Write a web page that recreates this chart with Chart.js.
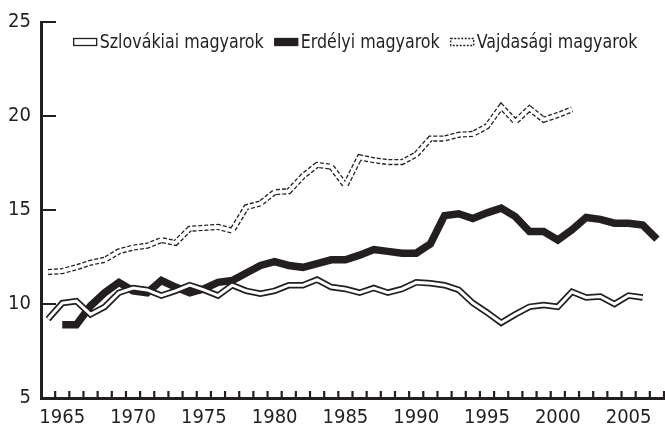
<!DOCTYPE html>
<html>
<head>
<meta charset="utf-8">
<script src="https://cdn.jsdelivr.net/npm/chart.js@4.4.1/dist/chart.umd.min.js"></script>
<style>
  html, body { margin: 0; padding: 0; background: #fff; }
  #wrap { width: 665px; height: 426px; }
</style>
</head>
<body>
<div id="wrap"><canvas id="chart"></canvas></div>
<script>
// Years on the x axis (labels shown every 5 years)
const years = [];
for (let y = 1964; y <= 2007; y++) years.push(String(y));

const yTicks = [5, 10, 15, 20, 25];

const seriesNames = ['Szlovákiai magyarok', 'Erdélyi magyarok', 'Vajdasági magyarok'];

// 1964 .. 2007
const szlovakiai = [
    9.2, 10.05, 10.15, 9.45, 9.85, 10.6, 10.85, 10.75, 10.45, 10.7,
    11.0, 10.75, 10.45, 11.0, 10.7, 10.55, 10.7, 11.0, 11.0, 11.3,
    10.9, 10.8, 10.6, 10.85, 10.6, 10.8, 11.15, 11.1, 11.0, 10.75,
    10.05, 9.55, 9.0, 9.45, 9.85, 9.95, 9.85, 10.65, 10.35, 10.4,
    10.0, 10.45, 10.35, null
];

const erdelyi = [
    null, 8.9, 8.9, 9.9, 10.6, 11.15, 10.7, 10.6, 11.25, 10.9,
    10.6, 10.8, 11.15, 11.25, 11.65, 12.05, 12.25, 12.05, 11.95, 12.15,
    12.35, 12.35, 12.6, 12.9, 12.8, 12.7, 12.7, 13.2, 14.7, 14.8,
    14.55, 14.85, 15.1, 14.65, 13.85, 13.85, 13.4, 13.95, 14.6, 14.5,
    14.3, 14.3, 14.2, 13.45
];

const vajdasagi = [
    11.7, 11.75, 11.95, 12.2, 12.35, 12.8, 13.0, 13.1, 13.4, 13.25,
    14.0, 14.05, 14.1, 13.9, 15.15, 15.35, 15.95, 16.0, 16.8, 17.4,
    17.3, 16.3, 17.8, 17.65, 17.55, 17.55, 17.95, 18.8, 18.8, 19.0,
    19.05, 19.45, 20.5, 19.7, 20.4, 19.8, 20.05, 20.35, null, null,
    null, null, null, null
];

const ink = '#231f20';
const fontFamily = '"Liberation Sans Narrow", "DejaVu Sans Condensed", "Arial Narrow", sans-serif';

// tick marks: y ticks point right, x ticks sit on category boundaries and point up
const tickMarks = {
    id: 'tickMarks',
    afterDatasetsDraw(chart) {
        const { ctx, chartArea, scales } = chart;
        const x = scales.x, y = scales.y;
        ctx.save();
        ctx.strokeStyle = ink;
        ctx.lineWidth = 2.2;
        ctx.beginPath();
        yTicks.forEach(v => {
            const py = y.getPixelForValue(v);
            ctx.moveTo(chartArea.left, py);
            ctx.lineTo(chartArea.left + 15, py);
        });
        const half = (x.getPixelForValue(1) - x.getPixelForValue(0)) / 2;
        for (let i = 1; i <= years.length; i++) {
            const px = x.getPixelForValue(i) - half;
            ctx.moveTo(px, chartArea.bottom);
            ctx.lineTo(px, chartArea.bottom - 7);
        }
        ctx.stroke();
        ctx.restore();
    }
};

// one-row legend inside the plot, near the top
const rowLegend = {
    id: 'rowLegend',
    afterDraw(chart) {
        const { ctx, chartArea } = chart;
        const boxW = 23, boxH = 7, gap = 3, itemGap = 11;
        const squeeze = 0.93; // narrow the text a little, like a condensed face
        const styles = [
            { fill: '#fff', dash: [] },
            { fill: ink, dash: [] },
            { fill: '#fff', dash: [2, 1.5] }
        ];
        ctx.save();
        ctx.font = '19px ' + fontFamily;
        ctx.textBaseline = 'middle';
        const widths = seriesNames.map(t => ctx.measureText(t).width * squeeze);
        let total = 0;
        widths.forEach(w => { total += boxW + gap + w; });
        total += itemGap * (seriesNames.length - 1);
        let x = (chartArea.left + chartArea.right) / 2 - total / 2 + 3;
        const cy = chartArea.top + 20;
        seriesNames.forEach((name, i) => {
            const s = styles[i];
            ctx.fillStyle = s.fill;
            ctx.fillRect(x, cy - boxH / 2, boxW, boxH);
            ctx.strokeStyle = ink;
            ctx.lineWidth = 1.3;
            ctx.setLineDash(s.dash);
            ctx.strokeRect(x, cy - boxH / 2, boxW, boxH);
            ctx.setLineDash([]);
            ctx.fillStyle = ink;
            ctx.save();
            ctx.translate(x + boxW + gap, cy + 1);
            ctx.scale(squeeze, 1);
            ctx.fillText(name, 0, 0);
            ctx.restore();
            x += boxW + gap + widths[i] + itemGap;
        });
        ctx.restore();
    }
};

const lineBase = {
    pointRadius: 0,
    pointHoverRadius: 0,
    tension: 0,
    borderJoinStyle: 'miter',
    borderCapStyle: 'butt',
    fill: false
};

const ctx = document.getElementById('chart').getContext('2d');
const chart = new Chart(ctx, {
    type: 'line',
    data: {
        labels: years,
        datasets: [
            // lower order = drawn on top
            { ...lineBase, label: seriesNames[0] + ' in', data: szlovakiai, borderColor: '#fff', borderWidth: 3, order: 1 },
            { ...lineBase, label: seriesNames[0], data: szlovakiai, borderColor: ink, borderWidth: 6.5, order: 2 },
            { ...lineBase, label: seriesNames[1], data: erdelyi, borderColor: ink, borderWidth: 7.5, order: 3 },
            { ...lineBase, label: seriesNames[2] + ' in', data: vajdasagi, borderColor: '#fff', borderWidth: 3.6, order: 4 },
            { ...lineBase, label: seriesNames[2], data: vajdasagi, borderColor: ink, borderWidth: 6.2, borderDash: [4, 2], order: 5 }
        ]
    },
    options: {
        responsive: true,
        maintainAspectRatio: false,
        animation: false,
        layout: { padding: { top: 20, left: 0, right: 1, bottom: 0 } },
        plugins: {
            tooltip: { enabled: false },
            legend: { display: false }
        },
        scales: {
            x: {
                type: 'category',
                offset: true,
                grid: { drawOnChartArea: false, drawTicks: false, offset: true },
                border: { display: true, color: ink, width: 3 },
                afterFit: function(scale) { scale.height = 28; },
                ticks: {
                    autoSkip: false,
                    maxRotation: 0,
                    padding: 8,
                    color: ink,
                    font: { family: fontFamily, size: 20 },
                    callback: function(value, index) {
                        const yr = Number(years[index]);
                        return yr % 5 === 0 ? String(yr) : '';
                    }
                }
            },
            y: {
                min: 5,
                max: 25,
                grid: { drawOnChartArea: false, drawTicks: false },
                border: { display: true, color: ink, width: 3 },
                afterFit: function(scale) { scale.width = 41; },
                afterBuildTicks: function(scale) {
                    scale.ticks = yTicks.map(v => ({ value: v }));
                },
                ticks: {
                    padding: 10,
                    color: ink,
                    font: { family: fontFamily, size: 20 }
                }
            }
        }
    },
    plugins: [tickMarks, rowLegend]
});
</script>
</body>
</html>
